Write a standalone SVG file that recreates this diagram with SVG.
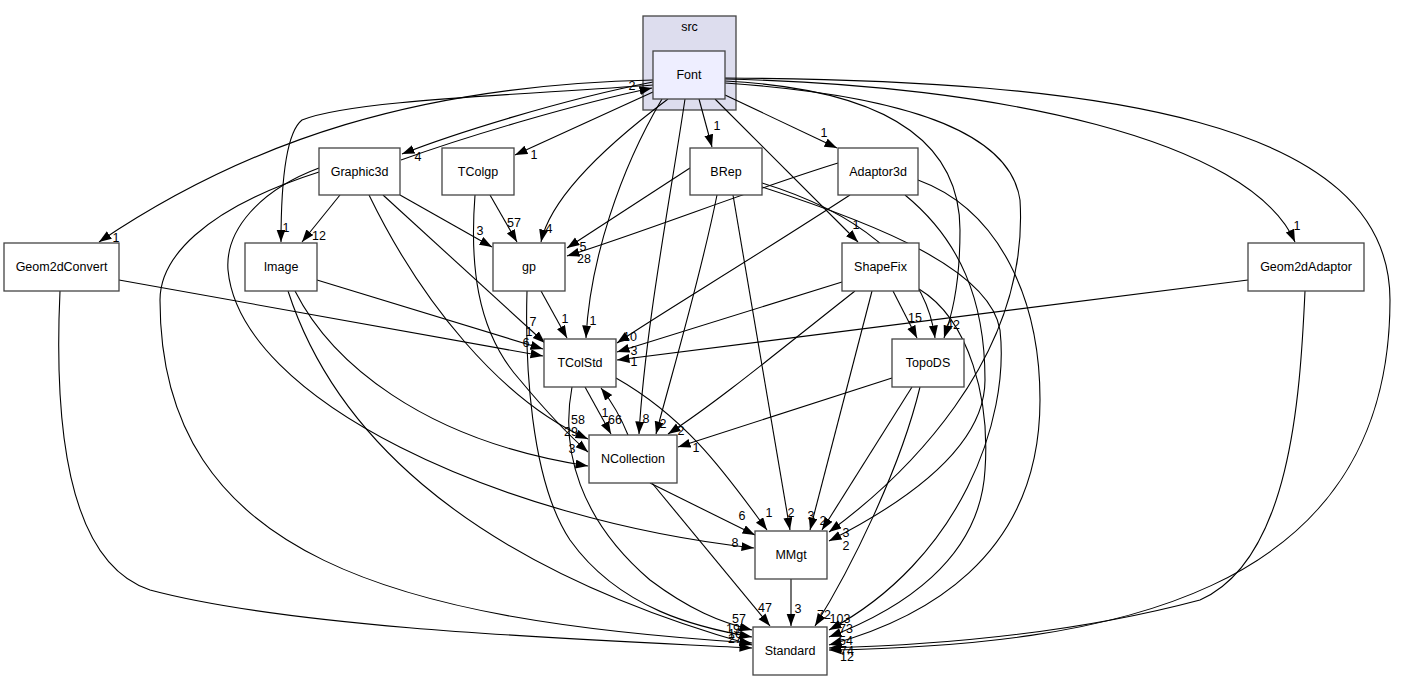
<svg xmlns="http://www.w3.org/2000/svg" width="1408" height="681" viewBox="0 0 1408 681">
<style>
.n{fill:#ffffff;stroke:#444444;stroke-width:1.3}
.t{font-family:"Liberation Sans",Arial,sans-serif;font-size:12.5px;fill:#000;text-anchor:middle}
.e{fill:none;stroke:#000;stroke-width:1.1}
.e path{marker-end:url(#ah)}
.l{font-family:"Liberation Sans",Arial,sans-serif;font-size:12.5px;fill:#000;text-anchor:middle}
</style>
<defs>
<marker id="ah" markerUnits="userSpaceOnUse" markerWidth="13" markerHeight="10" refX="12.5" refY="4.5" orient="auto">
<path d="M0,0 L12.5,4.5 L0,9 z" fill="#000" stroke="none"/>
</marker>
</defs>
<rect width="1408" height="681" fill="#ffffff"/>
<g id="cluster_src">
<rect x="643" y="16" width="93" height="94" fill="#ddddee" stroke="#444444" stroke-width="1.3"/>
<text class="t" x="689.5" y="31">src</text>
</g>
<g id="edges" class="e">
<path d="M653,82 C560,100 450,135 402,154"/>
<path d="M401,160 C470,135 580,103 652,88"/>
<path d="M653,92 L515,155"/>
<path d="M653,85 C520,95 350,100 302,120 C283,135 281,200 281,242"/>
<path d="M653,80 C420,85 250,140 99,242"/>
<path d="M340,195 L302,242"/>
<path d="M400,195 L492,247"/>
<path d="M383,195 L545,343"/>
<path d="M369,195 C420,300 500,400 588,439"/>
<path d="M319,168 C260,190 225,230 228,270 C240,400 500,520 754,548"/>
<path d="M319,172 C200,210 160,260 160,300 C160,560 400,620 752,643"/>
<path d="M668,99 C600,150 550,200 541,242"/>
<path d="M490,195 L517,242"/>
<path d="M475,195 C470,260 475,330 520,380 C545,410 565,432 588,452"/>
<path d="M317,280 L543,349"/>
<path d="M119,280 L543,356"/>
<path d="M295,291 C330,360 420,440 588,466"/>
<path d="M288,291 C330,420 450,560 752,645"/>
<path d="M60,291 C55,400 60,560 150,590 C300,630 600,640 752,648"/>
<path d="M541,291 L567,338"/>
<path d="M527,291 C525,360 530,480 570,540 C620,610 700,628 752,637"/>
<path d="M662,99 C620,170 590,260 586,338"/>
<path d="M685,99 C670,200 645,330 639,434"/>
<path d="M699,99 L712,147"/>
<path d="M690,168 L567,248"/>
<path d="M838,163 C750,190 650,230 567,256"/>
<path d="M717,195 C700,280 670,380 656,434"/>
<path d="M733,195 L790,530"/>
<path d="M762,183 C850,210 925,260 935,338"/>
<path d="M762,187 C880,225 990,270 1000,330 C1010,420 960,560 829,630"/>
<path d="M715,99 L858,242"/>
<path d="M725,95 L837,148"/>
<path d="M725,81 C900,90 960,150 960,230 C960,290 950,320 944,338"/>
<path d="M725,83 C900,95 1010,130 1020,200 C1030,360 900,480 829,532"/>
<path d="M725,79 C1000,85 1250,140 1295,242"/>
<path d="M725,78 C1100,80 1390,120 1390,300 C1390,600 1100,645 829,650"/>
<path d="M850,195 C750,260 650,320 617,343"/>
<path d="M905,195 C960,240 985,300 985,380 C985,450 900,505 829,541"/>
<path d="M918,180 C1000,210 1040,300 1040,400 C1040,560 920,620 829,645"/>
<path d="M842,282 L617,352"/>
<path d="M855,291 C780,350 720,400 668,434"/>
<path d="M893,291 L917,338"/>
<path d="M872,291 L810,530"/>
<path d="M919,289 C970,320 990,400 985,470 C980,560 900,610 829,637"/>
<path d="M1248,280 L617,360"/>
<path d="M1305,291 C1300,400 1290,560 1200,600 C1050,640 900,646 829,648"/>
<path d="M585,387 L611,434"/>
<path d="M628,435 C620,415 612,402 601,388"/>
<path d="M616,378 C690,420 730,480 767,530"/>
<path d="M572,387 C560,450 580,520 650,580 C690,610 720,622 752,630"/>
<path d="M650,483 L755,535"/>
<path d="M652,483 L770,626"/>
<path d="M892,378 L678,447"/>
<path d="M912,387 L822,530"/>
<path d="M920,387 C900,470 850,570 815,626"/>
<path d="M791,579 L791,626"/>
</g>
<g id="edge_labels">
<text class="l" x="418" y="161">4</text>
<text class="l" x="632" y="90">2</text>
<text class="l" x="534" y="159">1</text>
<text class="l" x="286" y="232">1</text>
<text class="l" x="116" y="242">1</text>
<text class="l" x="319" y="240">12</text>
<text class="l" x="480" y="235">3</text>
<text class="l" x="533" y="326">7</text>
<text class="l" x="578" y="424">58</text>
<text class="l" x="735" y="547">8</text>
<text class="l" x="549" y="233">4</text>
<text class="l" x="514" y="227">57</text>
<text class="l" x="571" y="436">29</text>
<text class="l" x="529" y="336">1</text>
<text class="l" x="526" y="347">6</text>
<text class="l" x="572" y="453">3</text>
<text class="l" x="565" y="323">1</text>
<text class="l" x="593" y="325">1</text>
<text class="l" x="646" y="423">8</text>
<text class="l" x="717" y="130">1</text>
<text class="l" x="583" y="251">5</text>
<text class="l" x="584" y="263">28</text>
<text class="l" x="663" y="428">2</text>
<text class="l" x="791" y="517">2</text>
<text class="l" x="856" y="229">1</text>
<text class="l" x="824" y="137">1</text>
<text class="l" x="953" y="329">42</text>
<text class="l" x="1297" y="230">1</text>
<text class="l" x="630" y="341">10</text>
<text class="l" x="634" y="355">3</text>
<text class="l" x="634" y="366">1</text>
<text class="l" x="681" y="435">2</text>
<text class="l" x="915" y="322">15</text>
<text class="l" x="811" y="520">3</text>
<text class="l" x="615" y="424">66</text>
<text class="l" x="605" y="417">1</text>
<text class="l" x="769" y="517">1</text>
<text class="l" x="742" y="520">6</text>
<text class="l" x="765" y="612">47</text>
<text class="l" x="696" y="452">1</text>
<text class="l" x="823" y="525">2</text>
<text class="l" x="846" y="537">3</text>
<text class="l" x="846" y="550">2</text>
<text class="l" x="824" y="619">72</text>
<text class="l" x="798" y="613">3</text>
<text class="l" x="739" y="623">57</text>
<text class="l" x="733" y="633">19</text>
<text class="l" x="735" y="638">16</text>
<text class="l" x="735" y="643">27</text>
<text class="l" x="840" y="623">103</text>
<text class="l" x="846" y="633">73</text>
<text class="l" x="846" y="645">54</text>
<text class="l" x="847" y="655">74</text>
<text class="l" x="847" y="661">12</text>
</g>
<g id="node_Font"><rect x="653" y="51" width="72" height="48" fill="#eeeeff" stroke="#444444" stroke-width="1.3"/><text class="t" x="689" y="79">Font</text></g>
<g id="node_Graphic3d"><rect class="n" x="319" y="148" width="81" height="47"/><text class="t" x="359.5" y="176">Graphic3d</text></g>
<g id="node_TColgp"><rect class="n" x="442" y="148" width="72" height="47"/><text class="t" x="478" y="176">TColgp</text></g>
<g id="node_BRep"><rect class="n" x="690" y="148" width="72" height="47"/><text class="t" x="726" y="176">BRep</text></g>
<g id="node_Adaptor3d"><rect class="n" x="838" y="148" width="80" height="47"/><text class="t" x="878" y="176">Adaptor3d</text></g>
<g id="node_Geom2dConvert"><rect class="n" x="4" y="243" width="115" height="48"/><text class="t" x="61.5" y="271">Geom2dConvert</text></g>
<g id="node_Image"><rect class="n" x="245" y="243" width="72" height="48"/><text class="t" x="281" y="271">Image</text></g>
<g id="node_gp"><rect class="n" x="493" y="243" width="72" height="48"/><text class="t" x="529" y="271">gp</text></g>
<g id="node_ShapeFix"><rect class="n" x="842" y="243" width="77" height="48"/><text class="t" x="880.5" y="271">ShapeFix</text></g>
<g id="node_Geom2dAdaptor"><rect class="n" x="1248" y="243" width="116" height="48"/><text class="t" x="1306" y="271">Geom2dAdaptor</text></g>
<g id="node_TColStd"><rect class="n" x="544" y="339" width="72" height="48"/><text class="t" x="580" y="367">TColStd</text></g>
<g id="node_TopoDS"><rect class="n" x="892" y="339" width="72" height="48"/><text class="t" x="928" y="367">TopoDS</text></g>
<g id="node_NCollection"><rect class="n" x="589" y="435" width="88" height="48"/><text class="t" x="633" y="463">NCollection</text></g>
<g id="node_MMgt"><rect class="n" x="755" y="531" width="72" height="48"/><text class="t" x="791" y="559">MMgt</text></g>
<g id="node_Standard"><rect class="n" x="753" y="627" width="74" height="48"/><text class="t" x="790" y="655">Standard</text></g>
</svg>
